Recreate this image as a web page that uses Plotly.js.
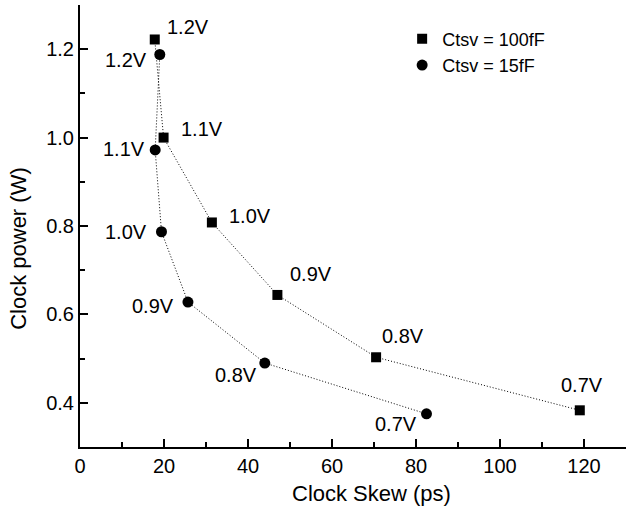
<!DOCTYPE html>
<html><head><meta charset="utf-8">
<script src="https://cdn.plot.ly/plotly-3.0.1.min.js"></script>
<style>body{margin:0;padding:0;background:#fff}#chart{width:628px;height:511px}</style>
</head><body><div id="chart"></div>
<script>
const voltages = ['1.2V','1.1V','1.0V','0.9V','0.8V','0.7V'];
const skew100 = [17.8, 19.9, 31.4, 47.0, 70.5, 119.0];
const power100 = [1.222, 1.000, 0.808, 0.644, 0.503, 0.383];
const skew15 = [19.0, 17.9, 19.4, 25.7, 44.0, 82.5];
const power15 = [1.188, 0.972, 0.787, 0.628, 0.490, 0.375];
const xTitle = 'Clock Skew (ps)';
const yTitle = 'Clock power (W)';

const fontFam = 'Liberation Sans, Arial, sans-serif';
const lineStyle = {color: '#000', width: 1, dash: '1px,2px'};
const traces = [
  {x: skew100, y: power100, mode: 'lines', line: lineStyle, showlegend: false},
  {x: skew15, y: power15, mode: 'lines', line: lineStyle, showlegend: false},
  {x: skew100, y: power100, mode: 'markers', name: 'Ctsv = 100fF',
   marker: {symbol: 'square', size: 10, color: '#000'}},
  {x: skew15, y: power15, mode: 'markers', name: 'Ctsv = 15fF',
   marker: {symbol: 'circle', size: 11, color: '#000'}}
];
const sqOff = [[33,12],[38,9],[38,6],[34,21],[27,21],[2,25]];
const ciOff = [[-34,-5],[-31,1],[-35,0],[-35,-4],[-29,-12],[-31,-10]];
const annotations = [];
voltages.forEach((v,i)=>{
  annotations.push({x: skew100[i], y: power100[i], text: v, showarrow: false,
    xshift: sqOff[i][0], yshift: sqOff[i][1], font: {family: fontFam, size: 20, color: '#000'}});
  annotations.push({x: skew15[i], y: power15[i], text: v, showarrow: false,
    xshift: ciOff[i][0], yshift: ciOff[i][1], font: {family: fontFam, size: 20, color: '#000'}});
});
annotations.push({xref: 'paper', yref: 'paper', x: 0.533, y: -0.106, text: xTitle, showarrow: false,
  xanchor: 'center', yanchor: 'middle', font: {family: fontFam, size: 22, color: '#000'}});
annotations.push({xref: 'paper', yref: 'paper', x: -0.114, y: 0.45, text: yTitle, showarrow: false,
  textangle: -90, xanchor: 'center', yanchor: 'middle', font: {family: fontFam, size: 22, color: '#000'}});
const layout = {
  width: 628, height: 511,
  margin: {l: 80, r: 2, t: 5, b: 64},
  paper_bgcolor: '#fff', plot_bgcolor: '#fff',
  font: {family: fontFam, color: '#000'},
  showlegend: true,
  legend: {x: 0.59, y: 0.965, xanchor: 'left', yanchor: 'top', bgcolor: 'rgba(0,0,0,0)',
    font: {family: fontFam, size: 18, color: '#000'}, tracegroupgap: 0, itemwidth: 30},
  xaxis: {range: [0, 130], tickvals: [0,20,40,60,80,100,120], showgrid: false, zeroline: false,
    showline: true, linecolor: '#000', linewidth: 2, ticks: 'inside', ticklen: 8, tickwidth: 2, tickcolor: '#000',
    minor: {dtick: 10, ticks: 'inside', ticklen: 5, tickwidth: 2, tickcolor: '#000', showgrid: false},
    tickfont: {family: fontFam, size: 20, color: '#000'}},
  yaxis: {range: [0.3, 1.3], tickvals: [0.4,0.6,0.8,1.0,1.2], ticktext: ['0.4','0.6','0.8','1.0','1.2'],
    showgrid: false, zeroline: false,
    showline: true, linecolor: '#000', linewidth: 2, ticks: 'inside', ticklen: 8, tickwidth: 2, tickcolor: '#000',
    minor: {dtick: 0.1, ticks: 'inside', ticklen: 5, tickwidth: 2, tickcolor: '#000', showgrid: false},
    tickfont: {family: fontFam, size: 20, color: '#000'}},
  annotations: annotations
};
Plotly.newPlot('chart', traces, layout, {staticPlot: true});
</script></body></html>
